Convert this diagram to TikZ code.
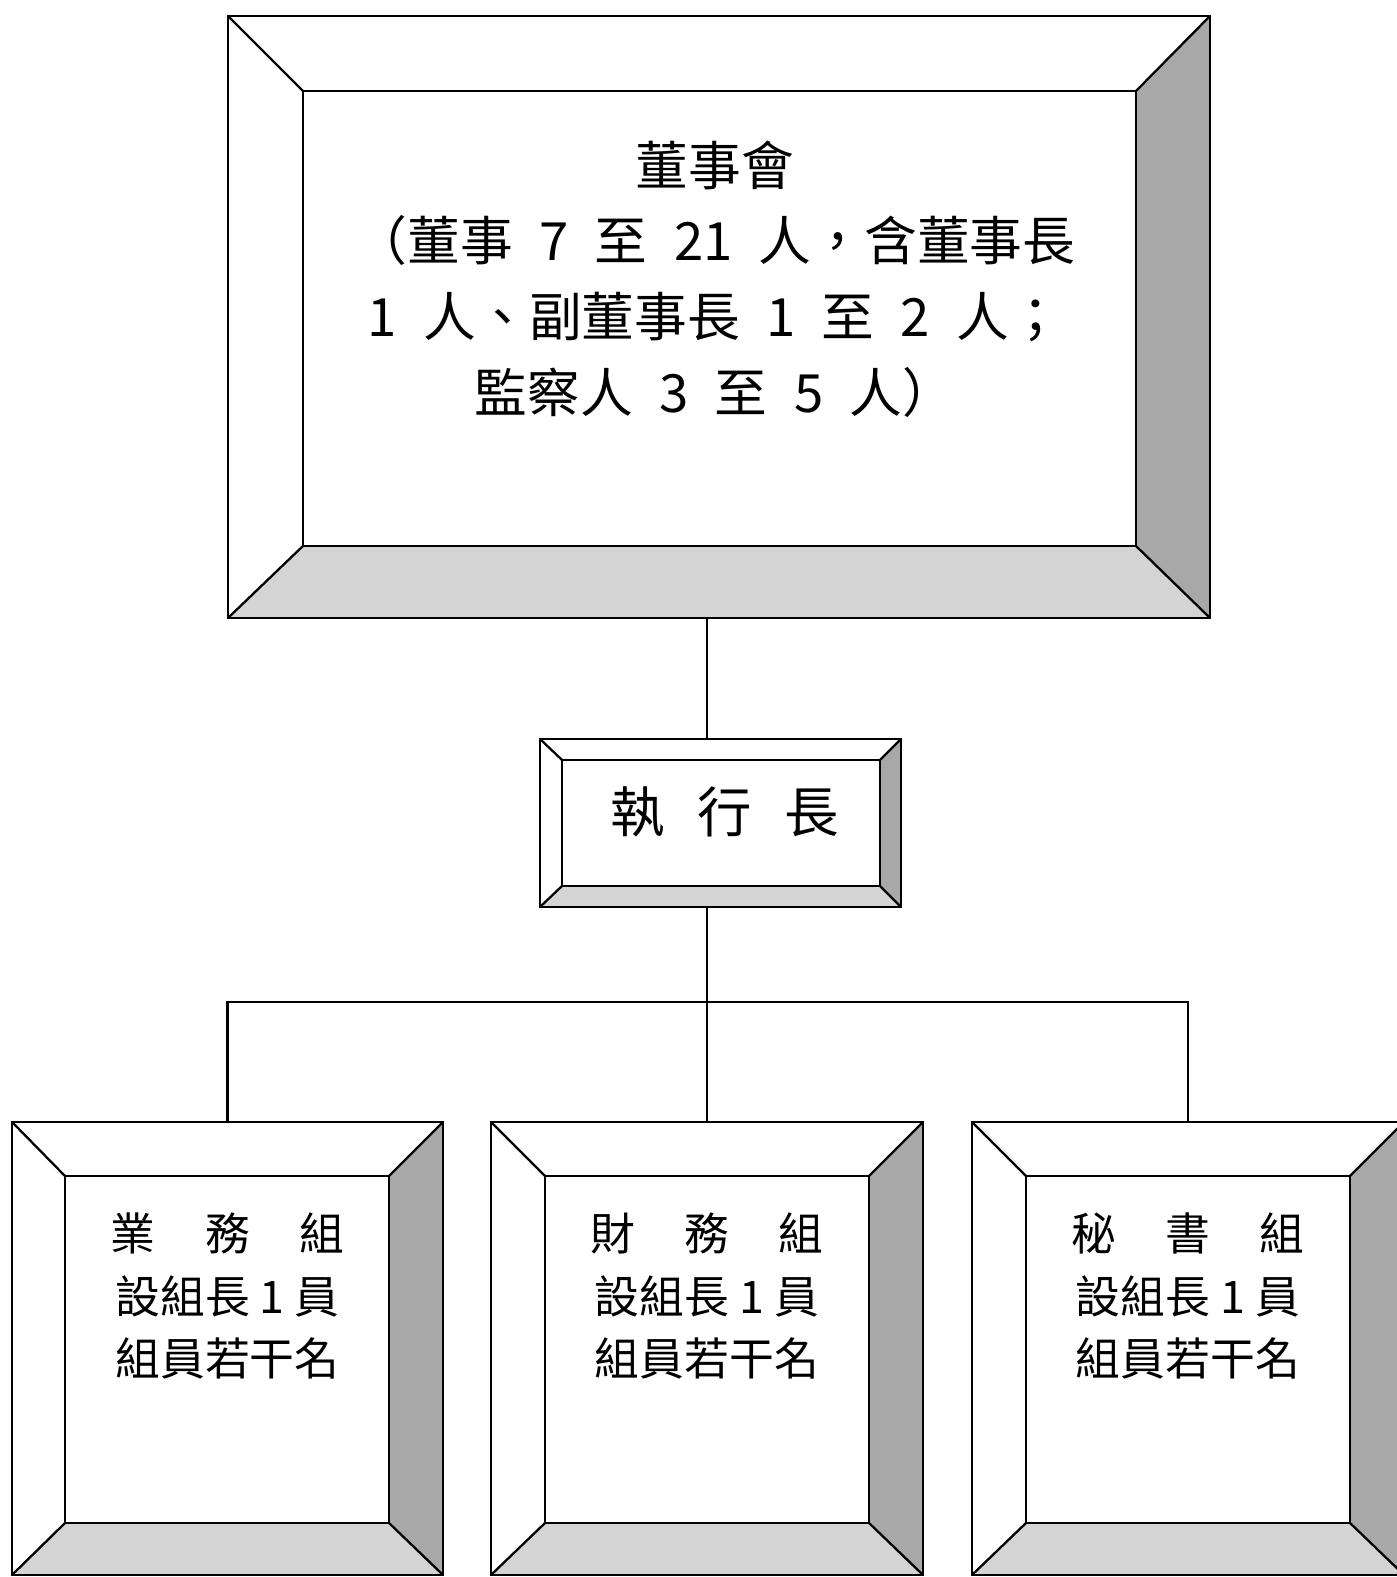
\documentclass[tikz,border=0pt]{standalone}
\usepackage{fontspec}
\setmainfont{Noto Sans CJK TC}
\usepackage{xcolor}
\definecolor{sidegray}{RGB}{168, 168, 168}
\definecolor{basegray}{RGB}{212, 212, 212}
\usepackage{tikz}
\usetikzlibrary{
    positioning
}
\tikzstyle{frame} = [
    rectangle,
    inner sep=0pt,
    outer sep=0pt
]
\tikzstyle{framein} = [
    rectangle,
    inner sep=0pt,
    outer sep=0pt,
    fill=white
]
\tikzstyle{frameline} = [
    line width=1.3pt,
    line join=miter
]
\tikzstyle{link} = [
    line width=1.3pt
]
% schräger Rahmen um Knoten #1 und #1-in
\newcommand{\bevel}[1]{%
    \fill[sidegray] (#1.north east) -- (#1-in.north east)
        -- (#1-in.south east) -- (#1.south east) -- cycle;
    \fill[basegray] (#1.south west) -- (#1-in.south west)
        -- (#1-in.south east) -- (#1.south east) -- cycle;
    \draw[frameline] (#1.north west) -- (#1-in.north west)
        (#1.north east) -- (#1-in.north east)
        (#1.south west) -- (#1-in.south west)
        (#1.south east) -- (#1-in.south east);
    \draw[frameline] (#1.south west) rectangle (#1.north east)
        (#1-in.south west) rectangle (#1-in.north east);
}
\newcommand{\gap}{\enspace}

\begin{document}
\begin{tikzpicture}[
    boardtext/.style={align=center, font=\fontsize{30}{43}\selectfont},
    ceotext/.style={font=\fontsize{31}{40}\selectfont},
    grouptext/.style={align=center, font=\fontsize{25.5}{35.5}\selectfont}
]
\useasboundingbox (0,0) rectangle (27.94,31.54);

\node (board) [frame, minimum width=19.64cm, minimum height=12.04cm] at (14.38,25.20) {};
\node (board-in) [framein, minimum width=16.66cm, minimum height=9.10cm] at (14.39,25.17) {};
\bevel{board}

\node (ceo) [frame, minimum width=7.22cm, minimum height=3.36cm] at (14.41,15.08) {};
\node (ceo-in) [framein, minimum width=6.36cm, minimum height=2.52cm] at (14.42,15.08) {};
\bevel{ceo}

\node (sales) [frame, minimum width=8.62cm, minimum height=9.06cm] at (4.55,4.57) {};
\node (sales-in) [framein, minimum width=6.48cm, minimum height=6.94cm] at (4.54,4.55) {};
\bevel{sales}

\node (finance) [frame, minimum width=8.64cm, minimum height=9.06cm] at (14.14,4.57) {};
\node (finance-in) [framein, minimum width=6.48cm, minimum height=6.94cm] at (14.14,4.55) {};
\bevel{finance}

\node (secretary) [frame, minimum width=8.64cm, minimum height=9.06cm] at (23.76,4.57) {};
\node (secretary-in) [framein, minimum width=6.48cm, minimum height=6.94cm] at (23.76,4.55) {};
\bevel{secretary}

\node (board-text) [boardtext] at (14.30,25.96)
    {董事會\\（董事\gap 7\gap 至\gap 21\gap 人，含董事長\\1\gap 人、副董事長\gap 1\gap 至\gap 2\gap 人；\\監察人\gap 3\gap 至\gap 5\gap 人）};
\node (ceo-text) [ceotext] at (14.50,15.30)
    {執\hspace{0.6em}行\hspace{0.6em}長};
\node (sales-text) [grouptext] at (4.55,5.62)
    {業\hspace{1.1em}務\hspace{1.1em}組\\設組長 1 員\\組員若干名};
\node (finance-text) [grouptext] at (14.14,5.62)
    {財\hspace{1.1em}務\hspace{1.1em}組\\設組長 1 員\\組員若干名};
\node (secretary-text) [grouptext] at (23.76,5.62)
    {秘\hspace{1.1em}書\hspace{1.1em}組\\設組長 1 員\\組員若干名};

% Verbindungen
\coordinate (bus) at (14.14,11.50);
\draw [link] (board.south -| bus) -- (ceo.north -| bus);
\draw [link] (ceo.south -| bus) -- (finance.north);
\draw [link] (sales.north) |- (bus) -| (secretary.north);

\end{tikzpicture}
\end{document}
